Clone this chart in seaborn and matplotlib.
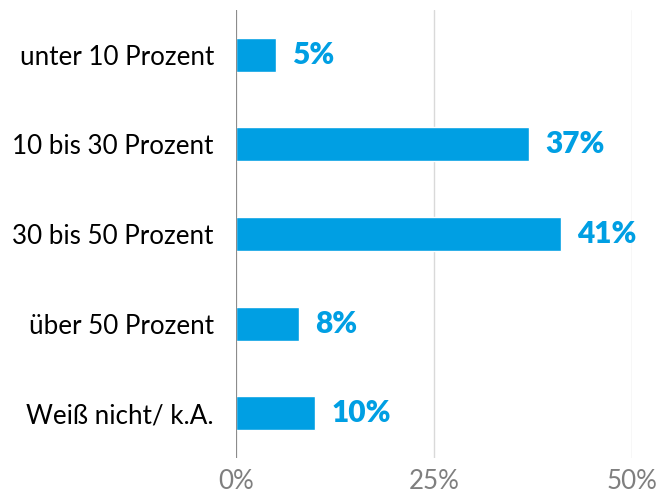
import matplotlib
matplotlib.use("Agg")
import matplotlib.pyplot as plt
import seaborn as sns
import pandas as pd

categories = ["unter 10 Prozent", "10 bis 30 Prozent", "30 bis 50 Prozent", "über 50 Prozent", "Weiß nicht/ k.A."]
values = [5, 37, 41, 8, 10]
value_labels = ["5%", "37%", "41%", "8%", "10%"]
xticks = [0, 25, 50]
xtick_labels = ["0%", "25%", "50%"]

sns.set_theme(style="white")
plt.rcParams['font.family'] = ['Lato', 'DejaVu Sans']

BLUE = "#009FE3"
df = pd.DataFrame({"cat": categories, "val": values})

fig = plt.figure(figsize=(6.6, 4.97), dpi=100)
ax = fig.add_axes([236/660, 39/497, 396/660, 448/497])
sns.barplot(data=df, y="cat", x="val", orient="h", color=BLUE, width=0.38,
            saturation=1, ax=ax)

ax.set_xlim(0, 50)
ax.set_ylim(4.5, -0.5)
ax.set_xticks(xticks)
ax.set_xticklabels(xtick_labels)
ax.set_xlabel("")
ax.set_ylabel("")
for s in ["top", "right", "bottom", "left"]:
    ax.spines[s].set_visible(False)
ax.xaxis.grid(True, color="#d9d9d9", linewidth=1)
ax.set_axisbelow(True)
ax.axvline(0, color="#8c8c8c", linewidth=1.5, zorder=3)

ax.tick_params(axis="y", length=0, pad=16, labelsize=18.7, labelcolor="#000000")
ax.tick_params(axis="x", length=0, pad=8, labelsize=18.7, labelcolor="#7f7f7f")

for i, (v, lab) in enumerate(zip(values, value_labels)):
    ax.annotate(lab, xy=(v, i), xytext=(16, 0), textcoords="offset pixels",
                ha="left", va="center", color=BLUE, fontsize=21.5,
                fontweight="heavy", annotation_clip=False)

fig.savefig("out.png", dpi=100)
